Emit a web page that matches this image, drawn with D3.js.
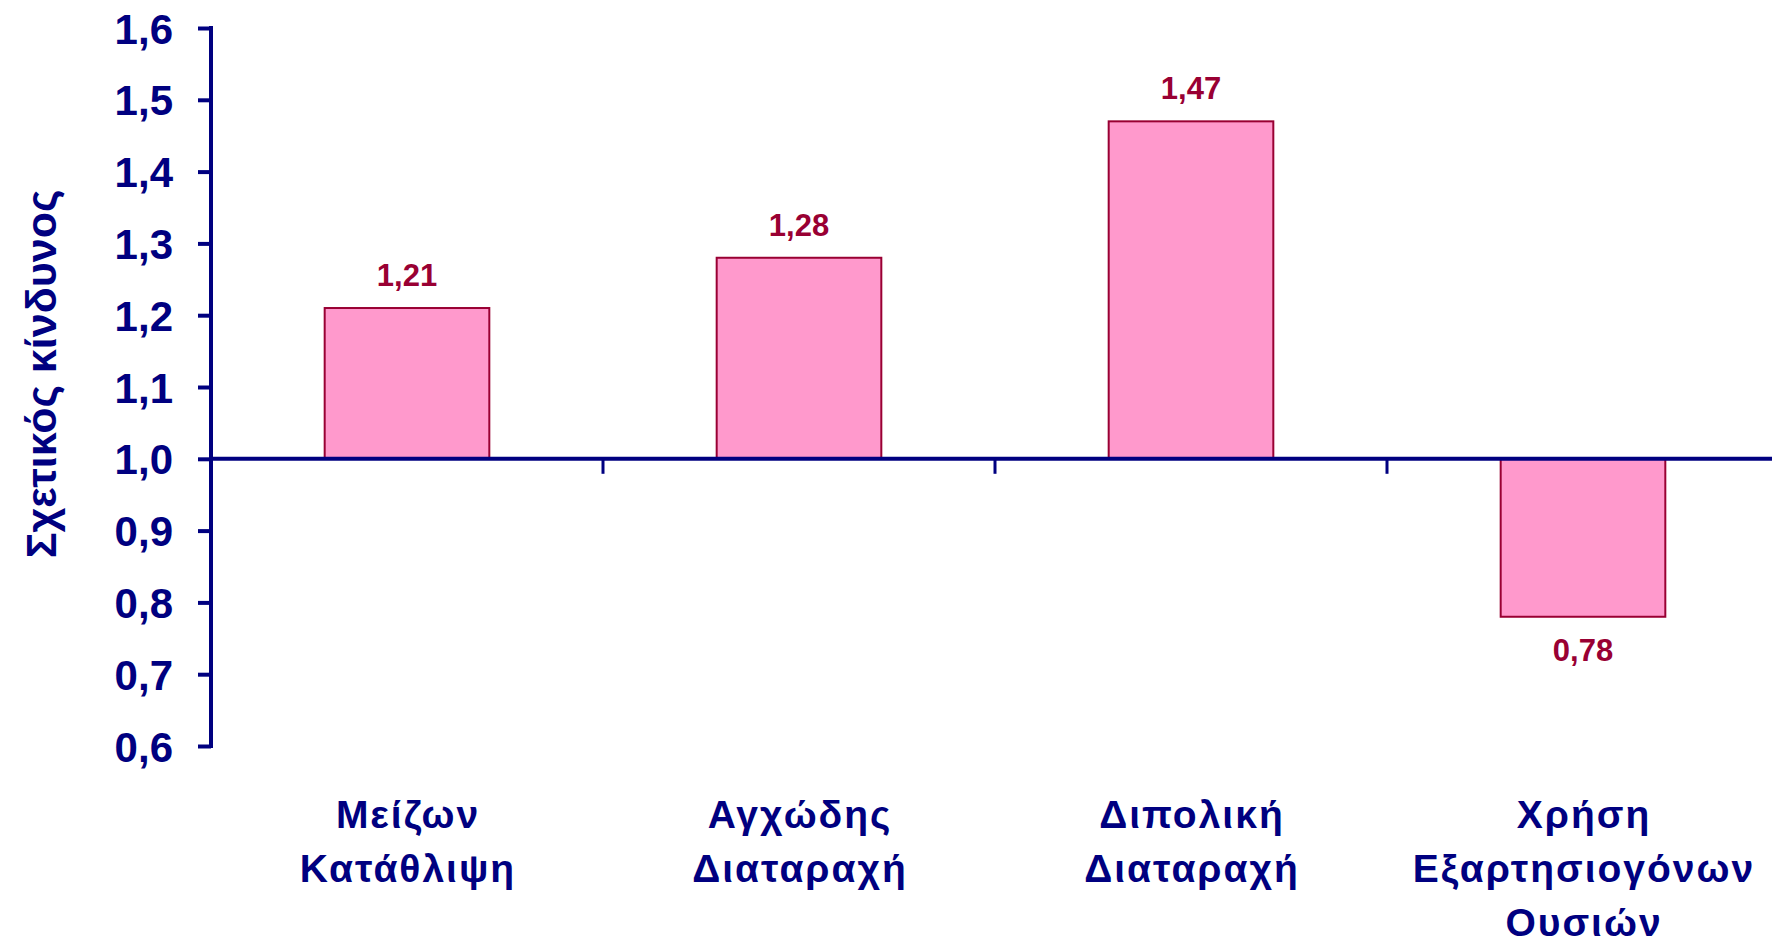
<!DOCTYPE html>
<html>
<head>
<meta charset="utf-8">
<script src="https://cdn.jsdelivr.net/npm/d3@7"></script>
<style>
  html, body { margin: 0; padding: 0; background: #ffffff; }
  svg { display: block; }
  text { font-family: "Liberation Sans", Arial, sans-serif; font-weight: bold; }
</style>
</head>
<body>
<svg id="chart" width="1772" height="942"></svg>
<script>
// ---- data ----
const categories = ["Μείζων Κατάθλιψη", "Αγχώδης Διαταραχή", "Διπολική Διαταραχή", "Χρήση Εξαρτησιογόνων Ουσιών"];
const categoryLines = [["Μείζων", "Κατάθλιψη"], ["Αγχώδης", "Διαταραχή"], ["Διπολική", "Διαταραχή"], ["Χρήση", "Εξαρτησιογόνων", "Ουσιών"]];
const values = [1.21, 1.28, 1.47, 0.78];
const valueLabels = ["1,21", "1,28", "1,47", "0,78"];
const yTicks = [0.6, 0.7, 0.8, 0.9, 1.0, 1.1, 1.2, 1.3, 1.4, 1.5, 1.6];
const yTitle = "Σχετικός κίνδυνος";
const baseValue = 1.0;

// ---- layout ----
const navy = "#000080";
const barFill = "#FF99CC";
const barStroke = "#990033";
const axisX = 211;

const svg = d3.select("#chart");

const y = d3.scaleLinear().domain([0.6, 1.6]).range([746, 28]);
const x = d3.scaleBand().domain(categories).range([axisX, 1779]).padding(0);
const barW = x.bandwidth() * 0.42;
const fmt = v => d3.format(".1f")(v).replace(".", ",");

// bars
svg.append("g").selectAll("rect")
  .data(values)
  .join("rect")
  .attr("x", (d, i) => x(categories[i]) + (x.bandwidth() - barW) / 2)
  .attr("y", d => Math.min(y(d), y(baseValue)))
  .attr("width", barW)
  .attr("height", d => Math.abs(y(d) - y(baseValue)))
  .attr("fill", barFill)
  .attr("stroke", barStroke)
  .attr("stroke-width", 2);

// value labels
svg.append("g").selectAll("text")
  .data(values)
  .join("text")
  .attr("x", (d, i) => x(categories[i]) + x.bandwidth() / 2)
  .attr("y", d => d >= baseValue ? y(d) - 22 : y(d) + 44)
  .attr("text-anchor", "middle")
  .attr("fill", barStroke)
  .attr("font-size", 31)
  .text((d, i) => valueLabels[i]);

// y axis
const yAxis = d3.axisLeft(y).tickValues(yTicks).tickFormat(fmt).tickSize(13).tickPadding(25);
const gy = svg.append("g").attr("transform", `translate(${axisX},0)`).call(yAxis);
gy.select(".domain").remove();
gy.selectAll(".tick line").attr("stroke", navy).attr("stroke-width", 4);
gy.selectAll(".tick text").attr("fill", navy).attr("font-size", 42)
  .attr("font-family", "'Liberation Sans', Arial, sans-serif").attr("font-weight", "bold")
  .attr("dy", "0.36em");
gy.append("line").attr("x1", 0).attr("x2", 0).attr("y1", y(1.6) - 2).attr("y2", y(0.6) + 2)
  .attr("stroke", navy).attr("stroke-width", 4);

// x axis (at base value)
const y0 = y(baseValue);
svg.append("line").attr("x1", axisX).attr("x2", 1772).attr("y1", y0).attr("y2", y0)
  .attr("stroke", navy).attr("stroke-width", 4);
svg.append("g").selectAll("line")
  .data(categories.slice(1))
  .join("line")
  .attr("x1", d => x(d)).attr("x2", d => x(d))
  .attr("y1", y0).attr("y2", y0 + 15)
  .attr("stroke", navy).attr("stroke-width", 3);

// category labels
const catG = svg.append("g").selectAll("text")
  .data(categories)
  .join("text")
  .attr("text-anchor", "middle")
  .attr("fill", navy)
  .attr("font-size", 39)
  .attr("letter-spacing", 2);
catG.each(function(d, i) {
  const t = d3.select(this);
  categoryLines[i].forEach((line, j) => {
    t.append("tspan")
      .attr("x", x(d) + x.bandwidth() / 2 + 1)
      .attr("y", y0 + 369 + j * 54)
      .text(line);
  });
});

// y title
svg.append("text")
  .attr("transform", `translate(56,374) rotate(-90)`)
  .attr("text-anchor", "middle")
  .attr("fill", navy)
  .attr("font-size", 43)
  .text(yTitle);
</script>
</body>
</html>
